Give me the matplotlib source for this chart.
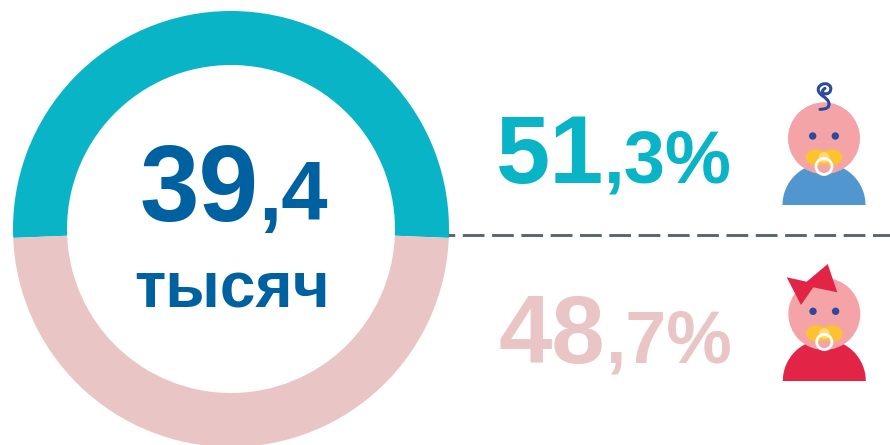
import matplotlib
matplotlib.use("Agg")
import matplotlib.pyplot as plt
from matplotlib.patches import Circle, Ellipse, Wedge, Polygon, PathPatch
from matplotlib.path import Path

shares = [51.3, 48.7]
share_int = ["51", "48"]
share_frac = [",3%", ",7%"]
total_int = "39"
total_frac = ",4"
total_unit = "тысяч"

TEAL = "#08B4C6"; PINK = "#E9C5C5"; NAVY = "#0061A1"
HEAD = "#F4A3A6"; BOY = "#5196CF"; GIRL = "#E22546"
YEL = "#FDC22F"; KNOB = "#FFD97A"; EYE = "#2B4A9B"

H = 445
plt.rcParams['font.family'] = ['Liberation Sans', 'DejaVu Sans']
fig = plt.figure(figsize=(8.9, 4.45), dpi=100)
ax = fig.add_axes([0, 0, 1, 1])

def Y(p):
    return H - p

start = -(shares[0] / 100 * 360 - 180) / 2
ax.pie(shares, colors=[TEAL, PINK], startangle=start, counterclock=True,
       center=(231, Y(229)), radius=218, wedgeprops=dict(width=54, linewidth=0))
ax.set_xlim(0, 890); ax.set_ylim(0, H); ax.set_aspect('equal'); ax.axis('off')

lw = 2.1
ax.plot([433, 890], [Y(234.7)] * 2, color="#5A6470", lw=lw, zorder=0,
        linestyle=(0, (21.7 * 0.72 / lw, 7.6 * 0.72 / lw)), dash_capstyle='butt')

def T(x, yb, s, size, color):
    ax.text(x, Y(yb), s, fontsize=size, color=color, fontweight='bold',
            ha='left', va='baseline')

T(139.5, 221, total_int, 77, NAVY)
T(258.5, 220, total_frac, 60, NAVY)
ax.text(232, Y(307), total_unit, fontsize=46, color=NAVY, fontweight='bold', ha='center', va='baseline')
T(496, 183.3, share_int[0], 70, TEAL)
T(603.5, 182.5, share_frac[0], 53.5, TEAL)
T(498, 362.7, share_int[1], 69, PINK)
T(605.5, 362.7, share_frac[1], 53, PINK)

def baby(cx, head_y, body_y, eye_y, pac_y, ring_y, ring_r, body_color):
    ax.add_patch(Wedge((cx, Y(body_y)), 41.5, 0, 180, color=body_color, lw=0))
    ax.add_patch(Circle((cx, Y(head_y)), 36, color=HEAD, lw=0))
    for dx in (-11.3, 11.3):
        ax.add_patch(Circle((cx + dx, Y(eye_y)), 3.7, color=EYE, lw=0))
    for dx in (-7.5, 7.5):
        ax.add_patch(Ellipse((cx + dx, Y(pac_y)), 22, 16.5, color=YEL, lw=0))
    ax.add_patch(Circle((cx, Y(pac_y)), 5.3, color=KNOB, lw=0))
    ax.add_patch(Circle((cx, Y(ring_y)), ring_r, fill=False, ec="white", lw=2.0))

baby(824, 138.3, 205, 136, 157.5, 166.5, 8.0, BOY)
baby(824.3, 314, 381, 311.3, 333.5, 342, 7.6, GIRL)

# curl (zoomed-crop coordinates, converted to pixels)
curl_z = [(150, 118), (180, 118), (177, 100), (175, 88), (158, 78), (140, 65),
          (146, 52), (155, 38), (172, 42), (188, 50), (180, 65), (172, 75),
          (160, 70), (153, 62), (165, 55)]
ax.add_patch(PathPatch(Path([(770 + x / 3, Y(70 + y / 3)) for x, y in curl_z],
                            [Path.MOVETO] + [Path.CURVE3] * 14),
                       fill=False, ec=EYE, lw=2.2, capstyle='round'))
# bow
bow = [(786.7, 277.3), (806.7, 281.7), (827.7, 264), (837.3, 292.3),
       (813.3, 287.3), (801, 305)]
ax.add_patch(Polygon([(x, Y(y)) for x, y in bow], color=GIRL, lw=0))

fig.savefig("out.png", dpi=100)
